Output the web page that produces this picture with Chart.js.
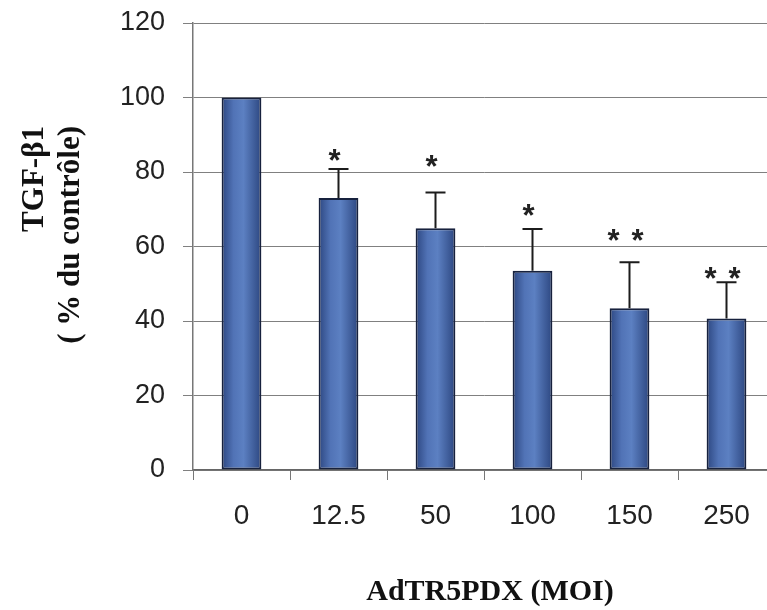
<!DOCTYPE html>
<html>

<head>
  <meta charset="utf-8">
  <title>TGF-b1 vs AdTR5PDX</title>
  <script src="https://cdn.jsdelivr.net/npm/chart.js@4.4.1/dist/chart.umd.min.js"></script>
  <style>
    html,
    body {
      margin: 0;
      padding: 0;
      overflow: hidden;
      background: #fff;
    }

    #wrap {
      position: relative;
      width: 790px;
      height: 610px;
    }
  </style>
</head>

<body>
  <div id="wrap"><canvas id="chart"></canvas></div>
  <script>
    var categories = ['0', '12.5', '50', '100', '150', '250'];
    var values = [100, 73, 64.9, 53.5, 43.4, 40.7];
    var errors = [0, 7.8, 9.6, 11.2, 12.4, 9.7];
    var starCounts = [0, 1, 1, 1, 2, 2];
    var starLevels = [null, 85.4, 83.8, 70.6, 63.9, 53.7];
    var yTicks = [0, 20, 40, 60, 80, 100, 120];
    var yTitle = ['TGF-\u03b21', '( % du contr\u00f4le)'];
    var xTitle = 'AdTR5PDX (MOI)';

    // blue bar fill, darker at the edges like the scan
    function barFill(c) {
      var chart = c.chart;
      var x = chart.scales.x ? chart.scales.x.getPixelForValue(c.dataIndex) : null;
      if (x == null || isNaN(x)) return '#4f72b6';
      var g = chart.ctx.createLinearGradient(x - 20, 0, x + 20, 0);
      g.addColorStop(0, '#2c4680');
      g.addColorStop(0.3, '#5173b6');
      g.addColorStop(0.55, '#5c80c2');
      g.addColorStop(1, '#2c4680');
      return g;
    }

    var extras = {
      id: 'extras',
      afterDatasetsDraw: function(chart) {
        var ctx = chart.ctx;
        var y = chart.scales.y;
        var bars = chart.getDatasetMeta(0).data;
        ctx.save();
        ctx.strokeStyle = '#1c1c1c';
        ctx.lineWidth = 2;
        bars.forEach(function(bar, i) {
          if (!errors[i]) return;
          var top = y.getPixelForValue(values[i] + errors[i]);
          ctx.beginPath();
          ctx.moveTo(bar.x, y.getPixelForValue(values[i]));
          ctx.lineTo(bar.x, top);
          ctx.moveTo(bar.x - 10, top);
          ctx.lineTo(bar.x + 10, top);
          ctx.stroke();
        });
        ctx.fillStyle = '#222';
        ctx.font = 'bold 31px "Liberation Sans", Arial, sans-serif';
        ctx.textAlign = 'center';
        ctx.textBaseline = 'alphabetic';
        bars.forEach(function(bar, i) {
          var n = starCounts[i];
          if (!n) return;
          var cy = y.getPixelForValue(starLevels[i]) + 19;
          for (var k = 0; k < n; k++) {
            var dx = n === 1 ? 0 : (k === 0 ? -12 : 12);
            ctx.fillText('*', bar.x - 4 + dx, cy);
          }
        });

        // axis titles
        ctx.fillStyle = '#111';
        ctx.font = 'bold 30px "Liberation Serif", "Times New Roman", serif';
        ctx.textAlign = 'center';
        ctx.textBaseline = 'middle';
        ctx.fillText(xTitle, 490, 592);

        ctx.font = 'bold 31px "Liberation Serif", "Times New Roman", serif';
        ctx.translate(35, 126);
        ctx.rotate(-Math.PI / 2);
        ctx.textAlign = 'right';
        yTitle.forEach(function(line, i) {
          ctx.fillText(line, 0, i * 36);
        });
        ctx.restore();
      }
    };

    var options = {
      type: 'bar',
      data: {
        labels: categories,
        datasets: [{
          data: values,
          backgroundColor: barFill,
          borderColor: '#17213d',
          borderWidth: 2,
          borderSkipped: false,
          barPercentage: 0.41,
          categoryPercentage: 1.0
        }]
      },
      options: {
        responsive: true,
        maintainAspectRatio: false,
        animation: false,
        layout: { padding: { left: 0, right: 15, top: 23, bottom: 0 } },
        plugins: {
          legend: { display: false },
          tooltip: { enabled: false }
        },
        scales: {
          x: {
            afterFit: function(s) { s.height = 140; },
            grid: { drawOnChartArea: false, offset: true, tickLength: 10, color: '#777', lineWidth: 1 },
            border: { color: '#666', width: 1.5 },
            ticks: {
              padding: 19,
              color: '#222',
              font: { family: '"Liberation Sans", Arial, sans-serif', size: 28 }
            }
          },
          y: {
            min: 0,
            max: 120,
            afterFit: function(s) {
              s.width = 193;
              s.paddingTop = 0;
              s.paddingBottom = 0;
            },
            afterBuildTicks: function(s) { s.ticks = yTicks.map(function(v) { return { value: v }; }); },
            grid: { color: '#808080', lineWidth: 1, tickLength: 10 },
            border: { color: '#777', width: 1.5 },
            ticks: {
              padding: 18,
              color: '#222',
              font: { family: '"Liberation Sans", Arial, sans-serif', size: 27 }
            }
          }
        }
      },
      plugins: [extras]
    };

    var ctx = document.getElementById('chart').getContext('2d');
    window.chart = new Chart(ctx, options);
  </script>
</body>

</html>
